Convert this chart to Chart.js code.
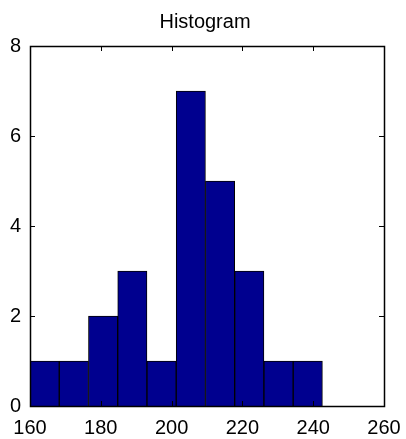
<!DOCTYPE html>
<html>
<head>
<meta charset="utf-8">
<script src="https://cdn.jsdelivr.net/npm/chart.js@4"></script>
<style>
  html, body { margin: 0; padding: 0; background: #fff; }
  #wrap { width: 406px; height: 439px; position: relative; }
</style>
</head>
<body>
<div id="wrap"><canvas id="c"></canvas></div>
<script>
const titleText = 'Histogram';
const binCenters = [164.13, 172.39, 180.65, 188.91, 197.17, 205.43, 213.69, 221.95, 230.21, 238.47];
const counts = [1, 1, 2, 3, 1, 7, 5, 3, 1, 1];
const xTicks = [160, 180, 200, 220, 240, 260];
const yTicks = [0, 2, 4, 6, 8];

const FONT = "'Liberation Sans', Arial, Helvetica, sans-serif";

const boxPlugin = {
  id: 'matlabBox',
  afterDatasetsDraw(chart) {
    const { ctx, chartArea: { left, right, top, bottom }, scales: { x, y } } = chart;
    const tl = 5;
    ctx.save();
    ctx.strokeStyle = '#000';
    ctx.lineWidth = 1;
    ctx.beginPath();
    xTicks.forEach(v => {
      const px = Math.round(x.getPixelForValue(v)) + 0.5;
      ctx.moveTo(px, bottom); ctx.lineTo(px, bottom - tl);
      ctx.moveTo(px, top); ctx.lineTo(px, top + tl);
    });
    yTicks.forEach(v => {
      const py = Math.round(y.getPixelForValue(v)) + 0.5;
      ctx.moveTo(left, py); ctx.lineTo(left + tl, py);
      ctx.moveTo(right, py); ctx.lineTo(right - tl, py);
    });
    ctx.stroke();
    ctx.lineWidth = 1.5;
    ctx.strokeRect(Math.round(left) + 0.5, Math.round(top) + 0.5, Math.round(right - left), Math.round(bottom - top));
    // title, centred over the axes
    ctx.fillStyle = '#000';
    ctx.font = '20px ' + FONT;
    ctx.textAlign = 'center';
    ctx.textBaseline = 'alphabetic';
    ctx.fillText(titleText, (left + right) / 2 - 2, 28);
    ctx.restore();
  }
};

new Chart(document.getElementById('c'), {
  type: 'bar',
  data: {
    datasets: [{
      data: binCenters.map((c, i) => ({ x: c, y: counts[i] })),
      backgroundColor: 'rgb(0,0,143)',
      borderColor: '#000',
      borderWidth: 1,
      barPercentage: 1,
      categoryPercentage: 1
    }]
  },
  options: {
    responsive: true,
    maintainAspectRatio: false,
    animation: false,
    layout: { padding: { top: 46, right: 22, bottom: 0, left: 0 } },
    plugins: {
      legend: { display: false },
      tooltip: { enabled: false },
      title: { display: false }
    },
    scales: {
      x: {
        type: 'linear',
        min: 160, max: 260,
        offset: false,
        grid: { display: false, drawTicks: false, offset: false },
        border: { display: false },
        afterBuildTicks: s => { s.ticks = xTicks.map(v => ({ value: v })); },
        afterFit: s => { s.height = 33; s.paddingLeft = 0; s.paddingRight = 0; },
        ticks: {
          color: '#000',
          padding: 10,
          maxRotation: 0,
          autoSkip: false,
          font: { family: FONT, size: 20 },
          callback: v => String(v)
        }
      },
      y: {
        min: 0, max: 8,
        grid: { display: false, drawTicks: false },
        border: { display: false },
        afterBuildTicks: s => { s.ticks = yTicks.map(v => ({ value: v })); },
        afterFit: s => { s.width = 30; s.paddingTop = 0; s.paddingBottom = 0; },
        ticks: {
          color: '#000',
          padding: 9,
          autoSkip: false,
          font: { family: FONT, size: 20 },
          callback: v => String(v)
        }
      }
    }
  },
  plugins: [boxPlugin]
});
</script>
</body>
</html>
